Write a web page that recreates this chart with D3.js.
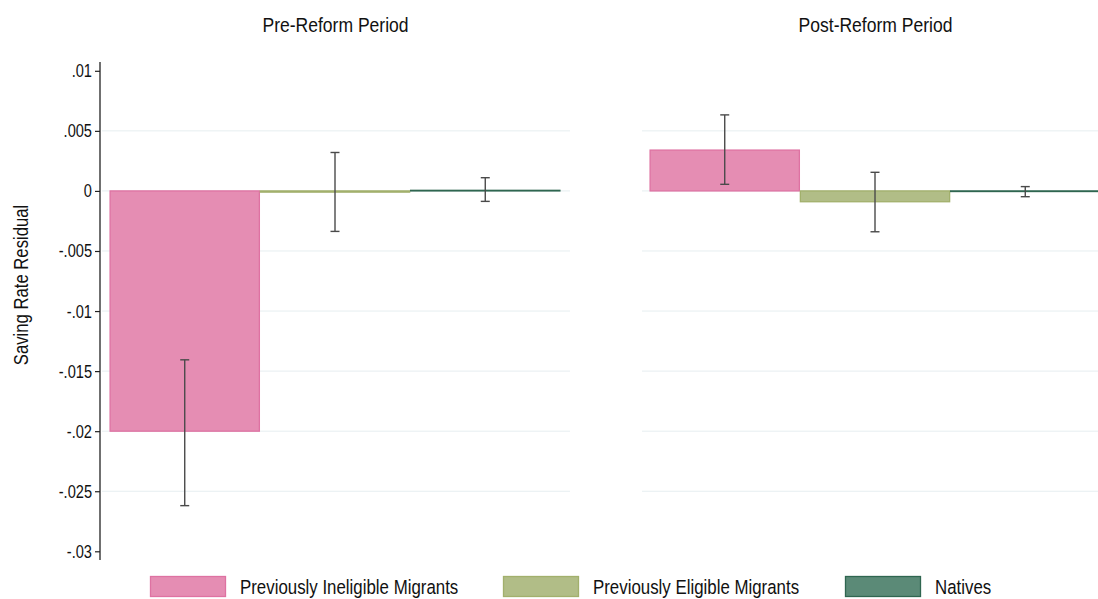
<!DOCTYPE html>
<html>
<head>
<meta charset="utf-8">
<script src="https://cdn.jsdelivr.net/npm/d3@7"></script>
<style>
  html, body { margin: 0; padding: 0; background: #fff; }
  svg { display: block; }
  text { font-family: "Liberation Sans", Arial, sans-serif; fill: #111; }
</style>
</head>
<body>
<svg id="chart" width="1098" height="599"></svg>
<script>
// Saving-rate residuals by group, before and after the reform
const periods = ["Pre-Reform Period", "Post-Reform Period"];
const groups = ["Previously Ineligible Migrants", "Previously Eligible Migrants", "Natives"];
const preValues = [-0.0200, -0.0001, 0.00005];
const preLower = [-0.0262, -0.00337, -0.00087];
const preUpper = [-0.01406, 0.0032, 0.0011];
const postValues = [0.0034, -0.0009, -0.00005];
const postLower = [0.00055, -0.0034, -0.00048];
const postUpper = [0.00633, 0.00155, 0.00036];
const yTicks = [0.01, 0.005, 0, -0.005, -0.01, -0.015, -0.02, -0.025, -0.03];
const yTickLabels = [".01", ".005", "0", "-.005", "-.01", "-.015", "-.02", "-.025", "-.03"];

const fills = ["#e58db3", "#b1bd87", "#5b8a77"];
const strokes = ["#de72a2", "#a2b06c", "#2f6650"];

// condensed look for the labels (narrow sans)
const NARROW = 0.835;

const svg = d3.select("#chart");

const y = d3.scaleLinear().domain([-0.03, 0.01]).range([551.3, 70.8]);
const axisTop = 62, axisBottom = 560;

const panels = [
  { title: periods[0], x0: 100, x1: 570, values: preValues, lo: preLower, hi: preUpper },
  { title: periods[1], x0: 640, x1: 1110, values: postValues, lo: postLower, hi: postUpper }
];

panels.forEach((p, pi) => {
  const g = svg.append("g");
  const x = d3.scaleBand().domain(groups).range([p.x0 + 9.6, p.x1 - 9.6]).paddingInner(0).paddingOuter(0);

  // horizontal grid
  g.selectAll("line.grid").data(yTicks.filter(t => t !== 0.01 && t !== -0.03)).join("line")
    .attr("class", "grid")
    .attr("x1", p.x0 + 2).attr("x2", p.x1)
    .attr("y1", d => y(d)).attr("y2", d => y(d))
    .attr("stroke", "#e6eef0").attr("stroke-width", 1);

  // bars
  g.selectAll("rect.bar").data(p.values).join("rect")
    .attr("class", "bar")
    .attr("x", (d, i) => x(groups[i]) + 0.5)
    .attr("width", x.bandwidth() - 1)
    .attr("y", d => Math.min(y(d), y(0)))
    .attr("height", d => Math.abs(y(d) - y(0)))
    .attr("fill", (d, i) => fills[i])
    .attr("stroke", (d, i) => strokes[i])
    .attr("stroke-width", 1.3);

  // confidence intervals
  const ci = g.selectAll("g.ci").data(p.values).join("g").attr("class", "ci")
    .attr("transform", (d, i) => `translate(${x(groups[i]) + x.bandwidth() / 2},0)`);
  ci.append("line")
    .attr("y1", (d, i) => y(p.hi[i])).attr("y2", (d, i) => y(p.lo[i]))
    .attr("stroke", "#4a4a4a").attr("stroke-width", 1.4);
  ci.append("line")
    .attr("x1", -4.5).attr("x2", 4.5)
    .attr("y1", (d, i) => y(p.hi[i])).attr("y2", (d, i) => y(p.hi[i]))
    .attr("stroke", "#4a4a4a").attr("stroke-width", 1.4);
  ci.append("line")
    .attr("x1", -4.5).attr("x2", 4.5)
    .attr("y1", (d, i) => y(p.lo[i])).attr("y2", (d, i) => y(p.lo[i]))
    .attr("stroke", "#4a4a4a").attr("stroke-width", 1.4);

  // panel title
  svg.append("text")
    .attr("transform", `translate(${p.x0 + 235.5},32) scale(${NARROW},1)`)
    .attr("text-anchor", "middle")
    .style("font-size", "21px")
    .text(p.title);

  // y axis on the first panel only
  if (pi === 0) {
    const axis = d3.axisLeft(y).tickValues(yTicks)
      .tickFormat((d, i) => yTickLabels[i]).tickSize(5).tickPadding(3);
    const ag = svg.append("g").attr("transform", `translate(${p.x0},0)`).call(axis);
    ag.select(".domain").remove();
    ag.append("line").attr("y1", axisTop).attr("y2", axisBottom)
      .attr("stroke", "#222").attr("stroke-width", 1.3);
    ag.selectAll(".tick line").attr("stroke", "#222").attr("stroke-width", 1.2);
    ag.selectAll(".tick text")
      .attr("x", null).attr("dy", null)
      .attr("transform", `translate(-8,6) scale(${NARROW},1)`)
      .style("font-family", "'Liberation Sans', Arial, sans-serif")
      .style("font-size", "17.5px").attr("fill", "#111");
  }
});

// y axis title
svg.append("text")
  .attr("transform", `translate(28,285) rotate(-90) scale(${NARROW},1)`)
  .attr("text-anchor", "middle")
  .style("font-size", "20px")
  .text("Saving Rate Residual");

// legend
const legendX = [150, 503, 845];
const lg = svg.selectAll("g.legend").data(groups).join("g").attr("class", "legend")
  .attr("transform", (d, i) => `translate(${legendX[i]},576)`);
lg.append("rect")
  .attr("x", 0.5).attr("y", 0.5).attr("width", 75).attr("height", 20)
  .attr("fill", (d, i) => fills[i]).attr("stroke", (d, i) => strokes[i]).attr("stroke-width", 1.3);
lg.append("text")
  .attr("transform", "translate(90,18) scale(0.865,1)")
  .style("font-size", "19.5px")
  .text(d => d);
</script>
</body>
</html>
